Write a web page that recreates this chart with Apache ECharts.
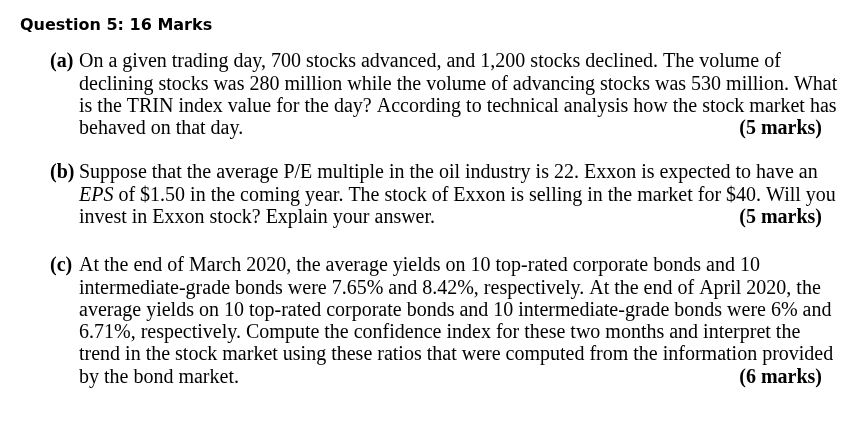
<!DOCTYPE html>
<html>
<head>
<meta charset="utf-8">
<script src="https://cdn.jsdelivr.net/npm/echarts@6/dist/echarts.min.js"></script>
<style>html,body{margin:0;padding:0;background:#fff;}#main{width:858px;height:422px;}</style>
</head>
<body>
<div id="main"></div>
<script>
var title = "Question 5: 16 Marks";
var partLabels = ["(a)", "(b)", "(c)"];
var partMarks = ["(5 marks)", "(5 marks)", "(6 marks)"];
// {i|...} = italic segment
var partA = [
    "On a given trading day, 700 stocks advanced, and 1,200 stocks declined. The volume of",
    "declining stocks was 280 million while the volume of advancing stocks was 530 million. What",
    "is the TRIN index value for the day? According to technical analysis how the stock market has",
    "behaved on that day."
];
var partB = [
    "Suppose that the average P/E multiple in the oil industry is 22. Exxon is expected to have an",
    "{i|EPS} of $1.50 in the coming year. The stock of Exxon is selling in the market for $40. Will you",
    "invest in Exxon stock? Explain your answer."
];
var partC = [
    "At the end of March 2020, the average yields on 10 top-rated corporate bonds and 10",
    "intermediate-grade bonds were 7.65% and 8.42%, respectively. At the end of April 2020, the",
    "average yields on 10 top-rated corporate bonds and 10 intermediate-grade bonds were 6% and",
    "6.71%, respectively. Compute the confidence index for these two months and interpret the",
    "trend in the stock market using these ratios that were computed from the information provided",
    "by the bond market."
];
var parts = [partA, partB, partC];
var partCenters = [62, 173, 266];
var lineH = 22.3;

var serif = "'Liberation Serif', 'Times New Roman', serif";
var elements = [{
    type: "text", left: 20, top: 18,
    style: {text: title, font: "bold 16px 'DejaVu Sans', Verdana, sans-serif", fill: "#000", verticalAlign: "middle"}
}];
for (var p = 0; p < parts.length; p++) {
    var c0 = partCenters[p];
    elements.push({type: "text", x: 50, y: c0,
        style: {text: partLabels[p], font: "bold 20px " + serif, fill: "#000", verticalAlign: "middle"}});
    for (var i = 0; i < parts[p].length; i++) {
        elements.push({type: "text", x: 79, y: c0 + i * lineH,
            style: {text: parts[p][i], font: "20px " + serif, fill: "#000", verticalAlign: "middle",
                rich: {i: {fontStyle: "italic", fontSize: 20, fontFamily: serif, fill: "#000"}}}});
    }
    var last = parts[p].length - 1;
    elements.push({type: "text", x: 822, y: c0 + last * lineH,
        style: {text: partMarks[p], font: "bold 20px " + serif, fill: "#000", align: "right", verticalAlign: "middle"}});
}

var chart = echarts.init(document.getElementById("main"));
chart.setOption({backgroundColor: "#fff", graphic: {elements: elements}});
</script>
</body>
</html>
